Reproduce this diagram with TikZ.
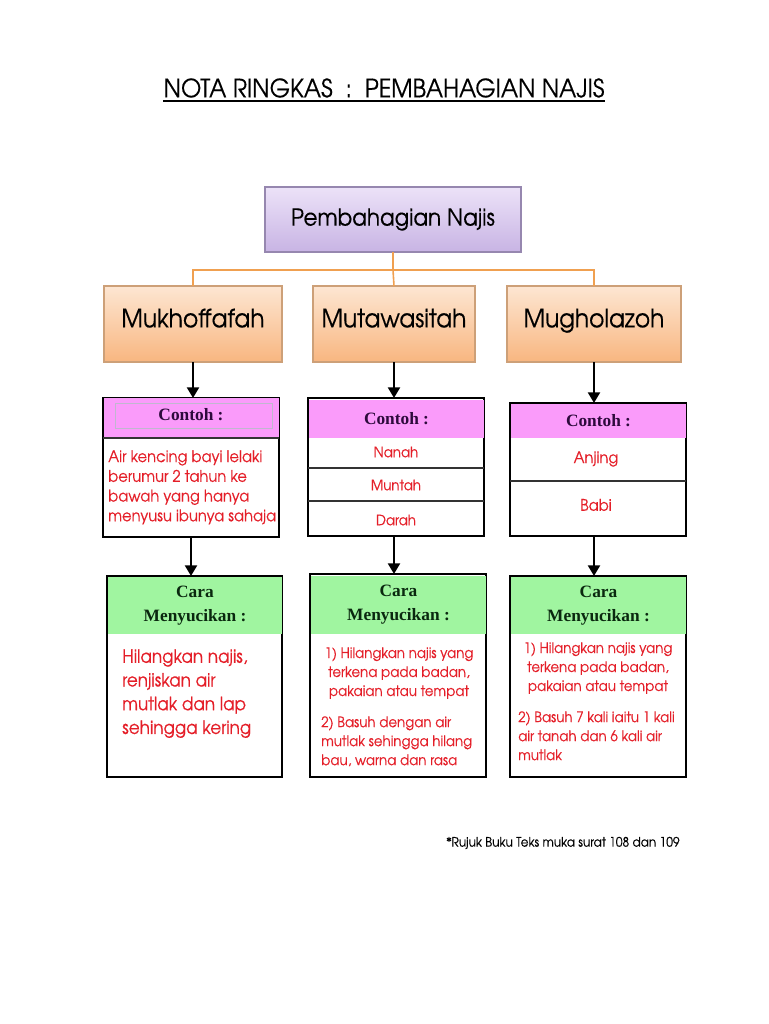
\documentclass[tikz,border=0pt]{standalone}
\usepackage{fontspec}
\setmainfont{texgyreadventor-regular.otf}[BoldFont=texgyreadventor-bold.otf, FakeStretch=0.92, FakeBold=0.4]
\newfontfamily\serifb{Liberation Serif}
\usetikzlibrary{arrows.meta}
\definecolor{pinkh}{RGB}{250,155,250}
\definecolor{greenh}{RGB}{160,245,160}
\definecolor{redt}{RGB}{228,30,40}
\definecolor{purpt}{RGB}{236,226,248}
\definecolor{purpb}{RGB}{200,180,228}
\definecolor{purpd}{RGB}{150,135,175}
\definecolor{orat}{RGB}{253,230,210}
\definecolor{orab}{RGB}{248,182,128}
\definecolor{orad}{RGB}{205,160,120}
\definecolor{oraline}{RGB}{240,160,80}
\definecolor{contohc}{RGB}{45,10,60}
\definecolor{carac}{RGB}{10,40,15}
\tikzset{
  box/.style={rectangle, inner sep=0pt, outer sep=0pt},
  topbox/.style={box, draw=purpd, line width=0.8pt, top color=purpt, bottom color=purpb, font=\fontsize{17.5}{20}\selectfont},
  catbox/.style={box, draw=orad, line width=0.8pt, top color=orat, bottom color=orab, font=\fontsize{19}{22}\selectfont, text height=0.72em, text depth=0.22em},
  outerbox/.style={box, draw=black, line width=1.1pt},
  pinkhead/.style={box, fill=pinkh, font=\serifb\bfseries\fontsize{13}{15}\selectfont, text=contohc},
  greenhead/.style={box, fill=greenh, font=\serifb\bfseries\fontsize{13}{18}\selectfont, text=carac, align=center},
  redtxt/.style={inner sep=0pt, text=redt, font=\fontsize{12}{14.8}\selectfont},
  smalltxt/.style={font=\fontsize{10.9}{14.25}\selectfont},
  orl/.style={draw=oraline, line width=1.2pt},
  arr/.style={draw=black, line width=1.6pt, -{Triangle[width=9pt,length=8pt]}},
  sep/.style={draw=black!80, line width=0.9pt}
}
\begin{document}
\begin{tikzpicture}[x=0.75pt,y=-0.75pt]
\useasboundingbox (0,0) rectangle (768,1024);
% title
\node[inner sep=0pt, font=\fontsize{19}{22}\selectfont] (title) at (384,88) {NOTA RINGKAS\ \ :\ \ PEMBAHAGIAN NAJIS};
\draw[line width=1.1pt] (title.west |- 0,101) -- (title.east |- 0,101);
% top level
\node[topbox, minimum width=256*0.75pt, minimum height=65*0.75pt] (top) at (393,219.5) {Pembahagian Najis};
\node[catbox, minimum width=178*0.75pt, minimum height=76*0.75pt] (mukh) at (193,324) {Mukhoffafah};
\node[catbox, minimum width=162*0.75pt, minimum height=76*0.75pt] (muta) at (394,324) {Mutawasitah};
\node[catbox, minimum width=174*0.75pt, minimum height=76*0.75pt] (mugh) at (594,324) {Mugholazoh};
\coordinate (bar) at (393,270);
\draw[orl] (top.south) -- (bar);
\draw[orl] (mukh.north) |- (bar) -| (mugh.north);
\draw[orl] (bar) -- (muta.north);
% Contoh boxes
\node[outerbox, minimum width=176*0.75pt, minimum height=139*0.75pt] (c1) at (191,467.5) {};
\node[pinkhead, minimum width=175*0.75pt, minimum height=40*0.75pt] (c1h) at (191.5,418) {};
\draw[draw=purpd!60, line width=0.5pt] (115,403) rectangle (272,428);
\node[pinkhead] (c1l) at (191,415) {Contoh :};
\draw[sep] (c1.west |- 0,438) -- (c1.east |- 0,438);
\node[redtxt, align=left, anchor=north west] (c1t) at (108,450) {Air kencing bayi lelaki\\berumur 2 tahun ke\\bawah yang hanya\\menyusu ibunya sahaja};

\node[outerbox, minimum width=176*0.75pt, minimum height=138*0.75pt] (c2) at (396,467) {};
\node[pinkhead, minimum width=175*0.75pt, minimum height=38*0.75pt] (c2h) at (396.5,419) {Contoh :};
\node[redtxt, smalltxt] (c2a) at (396,452) {Nanah};
\node[redtxt, smalltxt] (c2b) at (396,485) {Muntah};
\node[redtxt, smalltxt] (c2c) at (396,520) {Darah};
\draw[sep] (c2.west |- 0,468) -- (c2.east |- 0,468);
\draw[sep] (c2.west |- 0,501) -- (c2.east |- 0,501);

\node[outerbox, minimum width=176*0.75pt, minimum height=133*0.75pt] (c3) at (598,469.5) {};
\node[pinkhead, minimum width=175*0.75pt, minimum height=34*0.75pt] (c3h) at (598.5,421) {Contoh :};
\node[redtxt] (c3a) at (596,459) {Anjing};
\node[redtxt] (c3b) at (596,505) {Babi};
\draw[sep] (c3.west |- 0,481) -- (c3.east |- 0,481);

% Cara boxes
\node[outerbox, minimum width=175*0.75pt, minimum height=201*0.75pt] (k1) at (194.5,676.5) {};
\node[greenhead, minimum width=174*0.75pt, minimum height=57*0.75pt] (k1h) at (195,605.5) {Cara\\Menyucikan :};
\node[redtxt, align=left, anchor=north west, font=\fontsize{13.7}{17.8}\selectfont] (k1t) at (122,649) {Hilangkan najis,\\renjiskan air\\mutlak dan lap\\sehingga kering};

\node[outerbox, minimum width=176*0.75pt, minimum height=203*0.75pt] (k2) at (398,675.5) {};
\node[greenhead, minimum width=175*0.75pt, minimum height=58*0.75pt] (k2h) at (398.5,605) {Cara\\Menyucikan :};
\node[redtxt, smalltxt, align=center, anchor=north] (k2t) at (399,647) {1) Hilangkan najis yang\\terkena pada badan,\\pakaian atau tempat};
\node[redtxt, smalltxt, align=left, anchor=north west] (k2u) at (321,716) {2) Basuh dengan air\\mutlak sehingga hilang\\bau, warna dan rasa};

\node[outerbox, minimum width=176*0.75pt, minimum height=201*0.75pt] (k3) at (598,676.5) {};
\node[greenhead, minimum width=175*0.75pt, minimum height=57*0.75pt] (k3h) at (598.5,605.5) {Cara\\Menyucikan :};
\node[redtxt, smalltxt, align=center, anchor=north] (k3t) at (598,642) {1) Hilangkan najis yang\\terkena pada badan,\\pakaian atau tempat};
\node[redtxt, smalltxt, align=left, anchor=north west] (k3u) at (518,711) {2) Basuh 7 kali iaitu 1 kali\\air tanah dan 6 kali air\\mutlak};

% arrows
\draw[arr] (mukh.south) -- (mukh.south |- c1.north);
\draw[arr] (muta.south) -- (muta.south |- c2.north);
\draw[arr] (mugh.south) -- (mugh.south |- c3.north);
\draw[arr] (c1.south) -- (c1.south |- k1.north);
\draw[arr] (c2.south -| muta.south) -- (muta.south |- k2.north);
\draw[arr] (mugh.south |- c3.south) -- (mugh.south |- k3.north);

% footnote
\node[inner sep=0pt, font=\fontsize{9.8}{11}\selectfont] (foot) at (563,843) {*Rujuk Buku Teks muka surat 108 dan 109};
\end{tikzpicture}
\end{document}
